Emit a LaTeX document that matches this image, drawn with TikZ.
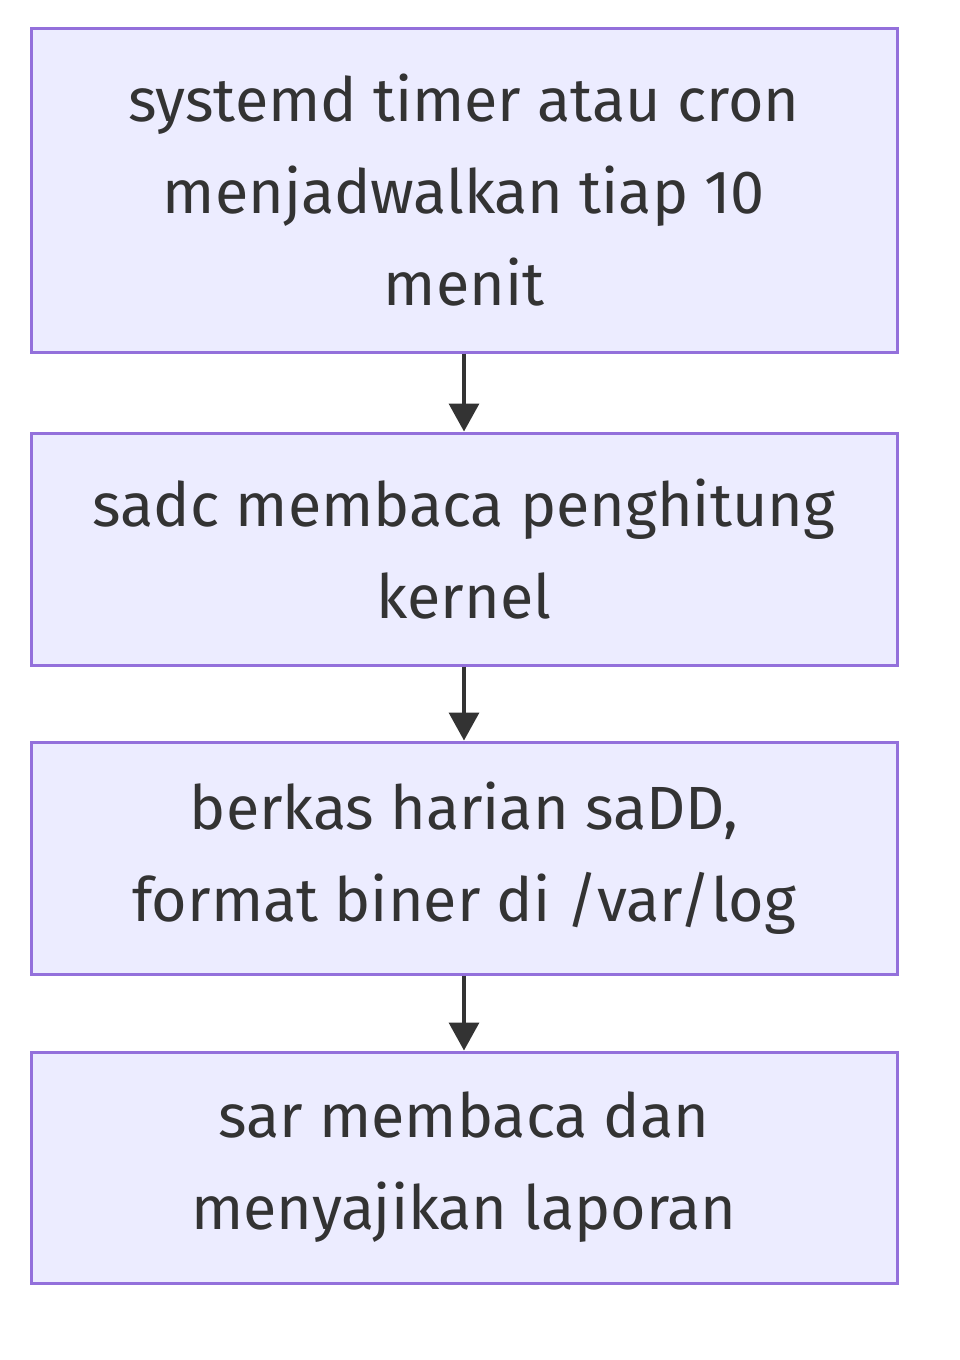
\documentclass[tikz,border=0pt]{standalone}
\usepackage{fontspec}
\setmainfont{Fira Sans}
\usetikzlibrary{arrows.meta}
\definecolor{boxfill}{HTML}{ECECFF}
\definecolor{boxline}{HTML}{9370DB}
\definecolor{arr}{HTML}{333333}
\begin{document}
\begin{tikzpicture}[x=1pt,y=-1pt,
 box/.style={draw=boxline,fill=boxfill,line width=3pt,minimum width=866pt,align=center,font=\fontsize{61}{92}\selectfont,text=arr,inner sep=0pt},
 con/.style={draw=arr,line width=3.5pt,-{Triangle[length=28pt,width=30pt]}}]
\useasboundingbox (0,0) rectangle (960,1360);
\node[box,minimum height=324pt] (a) at (464,190) {systemd timer atau cron\\menjadwalkan tiap 10\\menit};
\node[box,minimum height=232pt] (b) at (464,549) {sadc membaca penghitung\\kernel};
\node[box,minimum height=232pt] (c) at (464,858) {berkas harian saDD,\\format biner di /var/log};
\node[box,minimum height=231pt] (d) at (464,1167.5) {sar membaca dan\\menyajikan laporan};
\draw[con] (a) -- (b);
\draw[con] (b) -- (c);
\draw[con] (c) -- (d);
\end{tikzpicture}
\end{document}
